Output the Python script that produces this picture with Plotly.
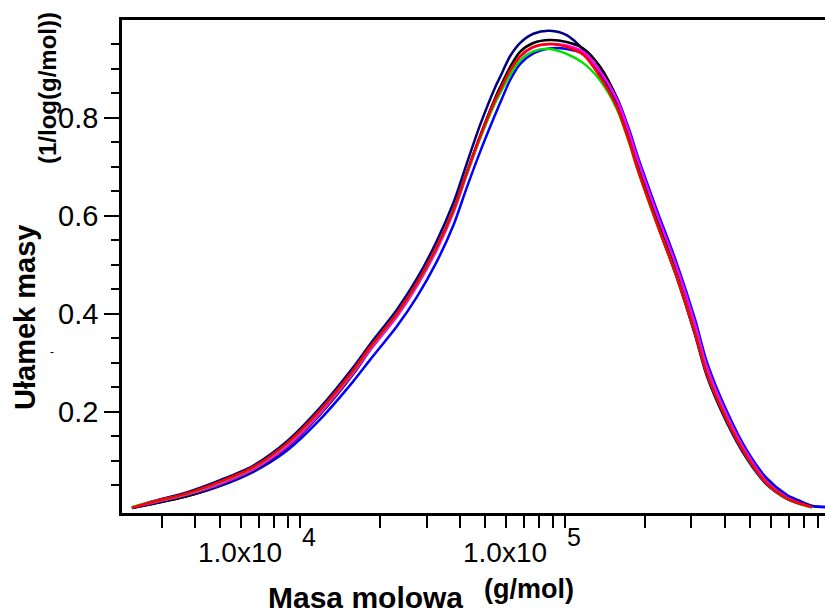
import plotly.graph_objects as go
import math

# Molar mass grid (g/mol)
masa = [2320, 2790, 3730, 4990, 6670, 8910, 11900, 15900, 18400, 23200, 27600,
        32800, 37900, 42500, 47800, 54500, 56900, 62000, 67600, 75900, 87700,
        101400, 117200, 135500, 156600, 175900, 186400, 221800, 263800, 309500,
        342600, 407600, 485000, 576900, 686500, 759400, 855000, 960000]

navy = [0.004, 0.017, 0.035, 0.060, 0.090, 0.139, 0.208, 0.291, 0.338, 0.408, 0.471,
        0.548, 0.626, 0.705, 0.785, 0.862, 0.883, 0.925, 0.952, 0.971, 0.977,
        0.968, 0.938, 0.890, 0.829, 0.752, 0.706, 0.586, 0.474, 0.356,
        0.273, 0.178, 0.104, 0.051, 0.022, 0.013, 0.007, 0.005]

blue = [0.003, 0.012, 0.027, 0.048, 0.077, 0.120, 0.184, 0.262, 0.306, 0.374, 0.434,
        0.506, 0.580, 0.656, 0.730, 0.806, 0.830, 0.876, 0.909, 0.931, 0.941,
        0.940, 0.930, 0.896, 0.842, 0.770, 0.727, 0.612, 0.503, 0.388,
        0.302, 0.201, 0.121, 0.064, 0.030, 0.019, 0.008, 0.005]

black = [0.003, 0.012, 0.027, 0.050, 0.080, 0.126, 0.194, 0.277, 0.326, 0.396, 0.460,
         0.535, 0.611, 0.687, 0.763, 0.840, 0.862, 0.903, 0.934, 0.952, 0.958,
         0.954, 0.941, 0.904, 0.840, 0.760, 0.714, 0.598, 0.488, 0.372,
         0.288, 0.190, 0.114, 0.058, 0.026, 0.015, 0.006, None]

magenta = [0.004, 0.014, 0.030, 0.052, 0.082, 0.128, 0.196, 0.279, 0.326, 0.394, 0.456,
           0.530, 0.606, 0.682, 0.758, 0.833, 0.853, 0.893, 0.923, 0.943, 0.950,
           0.947, 0.934, 0.895, 0.838, 0.764, 0.720, 0.604, 0.495, 0.378,
           0.292, 0.193, 0.115, 0.057, 0.025, 0.014, 0.005, None]

green = [0.005, 0.016, 0.032, 0.056, 0.086, 0.134, 0.202, 0.284, 0.331, 0.399, 0.461,
         0.535, 0.610, 0.684, 0.758, 0.830, 0.850, 0.887, 0.916, 0.935, 0.940,
         0.930, 0.911, 0.876, 0.818, 0.743, 0.699, 0.584, 0.476, 0.361,
         0.279, 0.184, 0.108, 0.053, 0.022, 0.012, 0.004, None]

red = [0.004, 0.016, 0.033, 0.057, 0.087, 0.135, 0.203, 0.285, 0.332, 0.400, 0.462,
       0.536, 0.611, 0.686, 0.761, 0.836, 0.856, 0.896, 0.925, 0.944, 0.950,
       0.944, 0.928, 0.883, 0.822, 0.745, 0.700, 0.584, 0.475, 0.360,
       0.278, 0.183, 0.108, 0.053, 0.023, 0.013, 0.005, None]

series = [("navy", navy, "#000080"), ("blue", blue, "#0000ff"), ("black", black, "#000000"),
          ("magenta", magenta, "#ff00ff"), ("green", green, "#00e000"), ("red", red, "#ff0000")]

x_ticks = [3000, 4000, 5000, 6000, 7000, 8000, 9000, 10000,
           20000, 30000, 40000, 50000, 60000, 70000, 80000, 90000, 100000,
           200000, 300000, 400000, 500000, 600000, 700000, 800000, 900000]
y_major = [0.2, 0.4, 0.6, 0.8]
y_minor = [0.05, 0.1, 0.15, 0.25, 0.3, 0.35, 0.45, 0.5, 0.55, 0.65, 0.7, 0.75, 0.85, 0.9, 0.95]
x_labels = [(10000, "4"), (100000, "5")]

fig = go.Figure()
for name, vals, col in series:
    fig.add_trace(go.Scatter(x=masa, y=vals, mode="lines", name=name,
                             line=dict(color=col, width=2.5, shape="spline", smoothing=0.8),
                             connectgaps=False))

font_main = "Liberation Sans, Arial, sans-serif"

fig.update_layout(
    width=825, height=613,
    margin=dict(l=122, r=0, t=20, b=100),
    paper_bgcolor="white", plot_bgcolor="white",
    showlegend=False,
    xaxis=dict(type="log", range=[3.328, 5.981], showgrid=False, zeroline=False,
               showline=True, linecolor="black", linewidth=2.5, mirror=True,
               ticks="outside", ticklen=12, tickwidth=1.5, tickcolor="black",
               tickmode="array", tickvals=x_ticks, showticklabels=False),
    yaxis=dict(range=[-0.007, 0.999], showgrid=False, zeroline=False,
               showline=True, linecolor="black", linewidth=2.5, mirror=False,
               ticks="outside", ticklen=15, tickwidth=1.5, tickcolor="black",
               tickmode="array", tickvals=y_major, ticktext=[f"{v:.1f}" for v in y_major],
               tickfont=dict(family=font_main, size=29, color="black"),
               minor=dict(tickmode="array", tickvals=y_minor, ticks="outside",
                          ticklen=8, tickwidth=1.5, tickcolor="black")),
)

ann = []
for val, exp in x_labels:
    lx = math.log10(val)
    ann.append(dict(x=lx, xref="x", y=0, yref="paper", text="1.0x10", showarrow=False,
                    xanchor="right", yanchor="middle", xshift=-16, yshift=-39,
                    font=dict(family=font_main, size=28, color="black")))
    ann.append(dict(x=lx, xref="x", y=0, yref="paper", text=exp, showarrow=False,
                    xanchor="left", yanchor="middle", xshift=0, yshift=-24,
                    font=dict(family=font_main, size=25, color="black")))

ann.append(dict(x=(365 - 122) / 703, xref="paper", y=0, yref="paper", text="<b>Masa molowa</b>",
                showarrow=False, xanchor="center", yanchor="middle", yshift=-84,
                font=dict(family=font_main, size=30, color="black")))
ann.append(dict(x=(529 - 122) / 703, xref="paper", y=0, yref="paper", text="<b>(g/mol)</b>",
                showarrow=False, xanchor="center", yanchor="middle", yshift=-76,
                font=dict(family=font_main, size=27, color="black")))
ann.append(dict(x=(25 - 122) / 703, xref="paper", y=(513 - 318) / 493, yref="paper",
                text="<b>Ułamek masy</b>", textangle=-90, showarrow=False,
                xanchor="center", yanchor="middle",
                font=dict(family=font_main, size=29, color="black")))
ann.append(dict(x=(47 - 122) / 703, xref="paper", y=(513 - 88) / 493, yref="paper",
                text="<b>(1/log(g/mol))</b>", textangle=-90, showarrow=False,
                xanchor="center", yanchor="middle",
                font=dict(family=font_main, size=24, color="black")))
ann.append(dict(x=(52 - 122) / 703, xref="paper", y=(513 - 352) / 493, yref="paper",
                text="-", showarrow=False, xanchor="center", yanchor="middle",
                font=dict(family=font_main, size=12, color="black")))
fig.update_layout(annotations=ann)

fig.write_html("out.html")
